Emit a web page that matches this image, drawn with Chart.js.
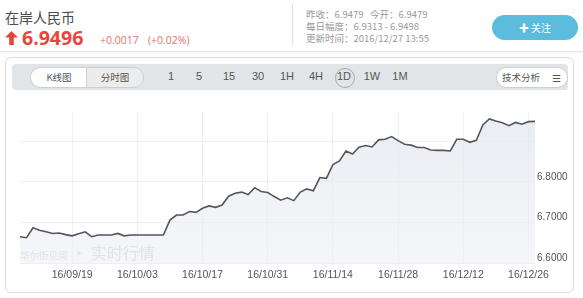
<!DOCTYPE html>
<html>
<head>
<meta charset="utf-8">
<script src="https://cdn.jsdelivr.net/npm/chart.js@4"></script>
<style>
  body { margin: 0; width: 583px; height: 298px; background: #fff; overflow: hidden;
    font-family: "Open Sans", "Noto Sans CJK SC", sans-serif; position: relative; }
  .abs { position: absolute; white-space: nowrap; }
  .title { left: 5px; top: 7px; font-size: 14px; color: #4a4a4a; font-family: "Noto Sans CJK SC"; }
  .price { left: 22px; top: 24px; font-size: 19.5px; font-weight: bold; color: #e8453c; }
  .arrow { left: 5px; top: 31px; }
  .chg { top: 33px; font-size: 10.5px; color: #e8716a; }
  .sep { left: 292px; top: 4px; width: 1px; height: 42px; background: #e2e2e2; }
  .info { left: 306px; font-size: 9.5px; color: #9a9a9a; font-family: "Noto Sans CJK SC"; }
  .btn { left: 492px; top: 15px; width: 86px; height: 25px; border-radius: 13px; background: #5bbcde;
    color: #fff; font-size: 10px; text-align: center; line-height: 25px; font-family: "Noto Sans CJK SC"; }
  .hline { left: 0; top: 51px; width: 583px; height: 1px; background: #e6e6e6; box-shadow: 0 1px 2px #eee; }
  .card { left: 5px; top: 57px; width: 567px; height: 234px; border: 1px solid #dcdcdc; border-radius: 6px; }
  .bar { left: 12px; top: 64px; width: 556px; height: 26px; background: #e2e5e8; border-radius: 4px; }
  .pill { top: 67px; height: 19px; border: 1px solid #cfcfcf; font-size: 9.5px; color: #555;
    line-height: 19px; text-align: center; font-family: "Noto Sans CJK SC"; }
  .per { top: 70px; font-size: 11px; color: #555; font-family: "Liberation Sans"; transform: translateX(-50%); }
  .circle { left: 335px; top: 68px; width: 18px; height: 18px; border: 1px solid #aaa; border-radius: 50%; }
  .wm { left: 20px; top: 240px; color: #e1e3e8; font-family: "Noto Sans CJK SC"; }
  .wm small { font-size: 9.5px; }
  .wm span { font-size: 16px; }
  #wrap { position: absolute; left: 5px; top: 95px; width: 568px; height: 195px; }
</style>
</head>
<body>
<div class="abs title">在岸人民币</div>
<svg class="abs arrow" width="13" height="14" viewBox="0 0 13 14"><path d="M6.5 0 L13 6.5 L8.8 6.5 L8.8 14 L4.2 14 L4.2 6.5 L0 6.5 Z" fill="#e8453c"/></svg>
<div class="abs price">6.9496</div>
<div class="abs chg" style="left:100px">+0.0017</div>
<div class="abs chg" style="left:148px">(+0.02%)</div>
<div class="abs sep"></div>
<div class="abs info" style="top:7px">昨收：6.9479</div>
<div class="abs info" style="top:7px;left:370px">今开：6.9479</div>
<div class="abs info" style="top:19px">每日幅度：6.9313 - 6.9498</div>
<div class="abs info" style="top:31px">更新时间：2016/12/27 13:55</div>
<div class="abs btn">✚ 关注</div>
<div class="abs hline"></div>
<div class="abs card"></div>
<div class="abs bar"></div>
<div class="abs pill" style="left:30px;width:56px;background:#fff;border-radius:10px 0 0 10px;border-right:none">K线图</div>
<div class="abs pill" style="left:86px;width:56px;background:#ececec;border-radius:0 10px 10px 0">分时图</div>
<div class="abs pill" style="left:496px;width:48px;background:#fff;border-radius:10px 0 0 10px;border-right:1px solid #ddd">技术分析</div>
<div class="abs pill" style="left:545px;width:22px;background:#fff;border-radius:0 10px 10px 0;border-left:none;font-size:10px">☰</div>
<div class="abs circle"></div>
<div class="abs per" style="left:171px">1</div>
<div class="abs per" style="left:199px">5</div>
<div class="abs per" style="left:229px">15</div>
<div class="abs per" style="left:258px">30</div>
<div class="abs per" style="left:287px">1H</div>
<div class="abs per" style="left:316px">4H</div>
<div class="abs per" style="left:344px">1D</div>
<div class="abs per" style="left:372px">1W</div>
<div class="abs per" style="left:400px">1M</div>
<div id="wrap"><canvas id="chart"></canvas></div>
<div class="abs wm"><small>华尔街见闻</small><span> · 实时行情</span></div>
<script>
// trading days (weekdays) shown on the chart
const dates = [
  "16/09/07", "16/09/08", "16/09/09", "16/09/12", "16/09/13", "16/09/14", "16/09/15", "16/09/16",
  "16/09/19", "16/09/20", "16/09/21", "16/09/22", "16/09/23", "16/09/26", "16/09/27", "16/09/28",
  "16/09/29", "16/09/30",
  "16/10/03", "16/10/04", "16/10/05", "16/10/06", "16/10/07", "16/10/10", "16/10/11", "16/10/12",
  "16/10/13", "16/10/14", "16/10/17", "16/10/18", "16/10/19", "16/10/20", "16/10/21", "16/10/24",
  "16/10/25", "16/10/26", "16/10/27", "16/10/28", "16/10/31",
  "16/11/01", "16/11/02", "16/11/03", "16/11/04", "16/11/07", "16/11/08", "16/11/09", "16/11/10",
  "16/11/11", "16/11/14", "16/11/15", "16/11/16", "16/11/17", "16/11/18", "16/11/21", "16/11/22",
  "16/11/23", "16/11/24", "16/11/25", "16/11/28", "16/11/29", "16/11/30",
  "16/12/01", "16/12/02", "16/12/05", "16/12/06", "16/12/07", "16/12/08", "16/12/09", "16/12/12",
  "16/12/13", "16/12/14", "16/12/15", "16/12/16", "16/12/19", "16/12/20", "16/12/21", "16/12/22",
  "16/12/23", "16/12/26", "16/12/27"
];

const rates = [
  6.665, 6.6625, 6.687, 6.681, 6.677, 6.673, 6.674, 6.670, 6.667, 6.672, 6.677, 6.665,
  6.669, 6.669, 6.669, 6.673, 6.667, 6.669, 6.669, 6.669, 6.669, 6.669, 6.669,
  6.706, 6.7185, 6.7185, 6.727, 6.725, 6.735, 6.741, 6.7375, 6.743, 6.765, 6.772,
  6.775, 6.769, 6.786, 6.7765, 6.774, 6.764, 6.755, 6.761, 6.754, 6.775, 6.783,
  6.7785, 6.811, 6.809, 6.843, 6.852, 6.8765, 6.869, 6.886, 6.890, 6.8865, 6.904,
  6.9054, 6.912, 6.902, 6.893, 6.891, 6.885, 6.885, 6.879, 6.878, 6.878, 6.8765,
  6.9054, 6.9054, 6.898, 6.903, 6.941, 6.9556, 6.9506, 6.946, 6.939, 6.947, 6.9425,
  6.949, 6.9496
];

// x tick labels (every two weeks)
const xTickLabels = ["16/09/19", "16/10/03", "16/10/17", "16/10/31", "16/11/14", "16/11/28", "16/12/12", "16/12/26"];
// y grid lines and the labels shown
const yGrid = [6.6, 6.7, 6.8, 6.9];
const yTickLabels = ["6.6000", "6.7000", "6.8000"];

const ctx = document.getElementById("chart");

new Chart(ctx, {
  type: "line",
  data: {
    labels: dates,
    datasets: [
      {
        data: rates,
        borderColor: "#52575f",
        borderWidth: 1.6,
        pointRadius: 0,
        tension: 0,
        fill: "start",
        backgroundColor: function (c) {
          const area = c.chart.chartArea;
          if (!area) return "#eef0f4";
          const g = c.chart.ctx.createLinearGradient(0, area.top, 0, area.bottom);
          g.addColorStop(0, "rgba(226,230,237,0.75)");
          g.addColorStop(1, "rgba(238,240,245,0.6)");
          return g;
        },
      },
    ],
  },
  options: {
    responsive: true,
    maintainAspectRatio: false,
    animation: false,
    layout: { padding: { left: 15, top: 17, right: 0, bottom: 0 } },
    plugins: { legend: { display: false }, tooltip: { enabled: false } },
    scales: {
      x: {
        grid: { color: "#efefef", drawTicks: false },
        border: { display: false },
        afterBuildTicks: function (scale) {
          scale.ticks = scale.ticks.filter((t) => xTickLabels.includes(dates[t.value]));
        },
        afterFit: function (scale) {
          scale.height = 27;
        },
        ticks: {
          autoSkip: false,
          maxRotation: 0,
          padding: 6,
          color: "#555",
          font: { family: "Liberation Sans", size: 10.5 },
          callback: function (v) {
            return dates[v];
          },
        },
      },
      y: {
        position: "right",
        min: 6.6,
        max: 6.9728,
        grid: { color: "#efefef", drawTicks: false },
        border: { display: false },
        afterBuildTicks: function (scale) {
          scale.ticks = yGrid.map((v) => ({ value: v }));
        },
        afterFit: function (scale) {
          scale.width = 38;
        },
        ticks: {
          padding: 2,
          labelOffset: -5,
          color: "#555",
          font: { family: "Liberation Sans", size: 10 },
          callback: function (v, i) {
            return yTickLabels[i] || "";
          },
        },
      },
    },
  },
});
</script>
</body>
</html>
